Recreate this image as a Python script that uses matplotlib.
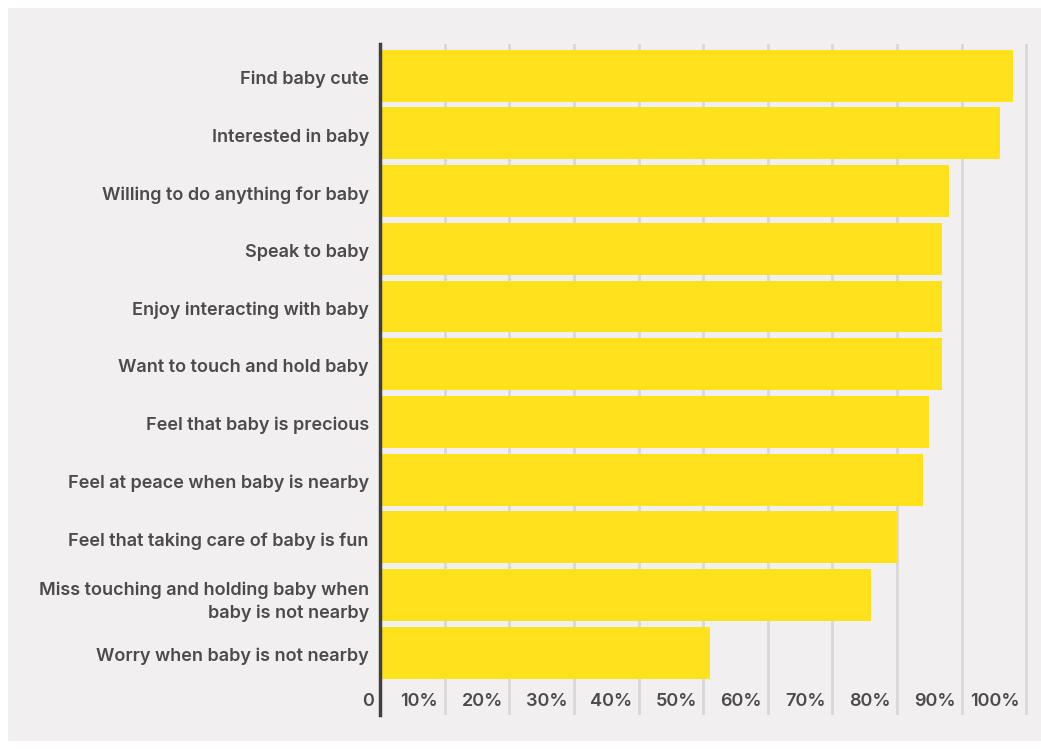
import matplotlib.pyplot as plt
from matplotlib.patches import Rectangle

plt.rcParams['font.family'] = ['Inter', 'DejaVu Sans']

# data
labels = ['Find baby cute', 'Interested in baby', 'Willing to do anything for baby',
          'Speak to baby', 'Enjoy interacting with baby', 'Want to touch and hold baby',
          'Feel that baby is precious', 'Feel at peace when baby is nearby',
          'Feel that taking care of baby is fun',
          'Miss touching and holding baby when\nbaby is not nearby',
          'Worry when baby is not nearby']
values = [98, 96, 88, 87, 87, 87, 85, 84, 80, 76, 51]
ticks = [0, 10, 20, 30, 40, 50, 60, 70, 80, 90, 100]
tick_labels = ['0', '10%', '20%', '30%', '40%', '50%', '60%', '70%', '80%', '90%', '100%']

bg = '#f1eff0'
yellow = '#ffe11c'
txt = '#4b4b4b'

fig = plt.figure(figsize=(10.41, 7.49), dpi=100, facecolor='white')
# grey panel behind the chart
fig.patches.append(Rectangle((8 / 1041, 8 / 749), 1, 733 / 749, transform=fig.transFigure,
                             facecolor=bg, edgecolor='none', zorder=-1))

ax = fig.add_axes([380 / 1041, 1 - 715 / 749, 656 / 1041, 671 / 749])
ax.set_facecolor(bg)

y = list(range(len(labels)))
ax.barh(y, values, height=0.9, color=yellow, zorder=2)

ax.set_xlim(0, 101.5)
ax.set_ylim(11.08, -0.55)

for t in ticks[1:]:
    ax.axvline(t, color='#d9d7d9', lw=2, zorder=1)

ax.set_yticks([v + 0.03 for v in y])
ax.set_yticklabels(labels, fontsize=13, color=txt, fontweight='semibold',
                   linespacing=1.4, ha='right')
ax.tick_params(axis='y', length=0, pad=8)
ax.set_xticks([])

for t, lab in zip(ticks, tick_labels):
    ax.text(t - 1.0, 10.85, lab, ha='right', va='center', fontsize=13,
            color=txt, fontweight='semibold', zorder=3)

for s in ['top', 'right', 'bottom']:
    ax.spines[s].set_visible(False)
ax.spines['left'].set_color('#404040')
ax.spines['left'].set_linewidth(2.5)
ax.spines['left'].set_zorder(4)

fig.savefig('out.png', dpi=100, facecolor='white')
